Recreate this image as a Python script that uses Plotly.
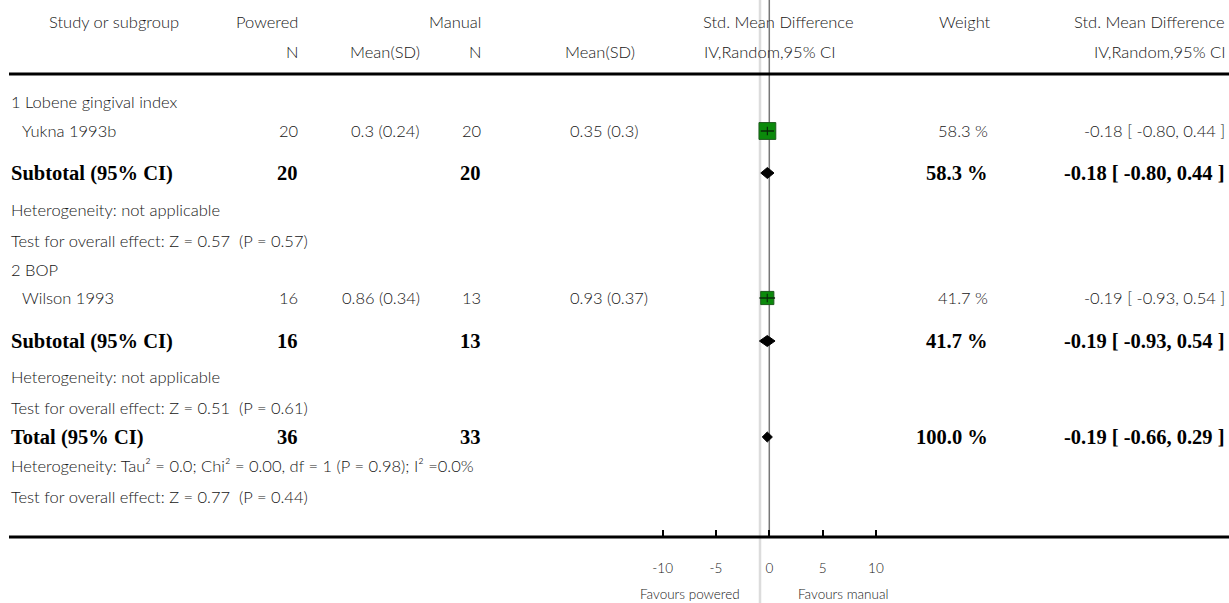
import plotly.graph_objects as go

# ---------------- data ----------------
group_titles = ["1 Lobene gingival index", "2 BOP"]
studies = ["Yukna 1993b", "Wilson 1993"]
powered_n = [20, 16]
powered_mean_sd = ["0.3 (0.24)", "0.86 (0.34)"]
manual_n = [20, 13]
manual_mean_sd = ["0.35 (0.3)", "0.93 (0.37)"]
study_smd = [-0.18, -0.19]
study_lo = [-0.80, -0.93]
study_hi = [0.44, 0.54]
study_weight = [58.3, 41.7]

sub_powered_n = [20, 16]
sub_manual_n = [20, 13]
sub_weight = [58.3, 41.7]
sub_smd = [-0.18, -0.19]
sub_lo = [-0.80, -0.93]
sub_hi = [0.44, 0.54]
sub_het = ["Heterogeneity: not applicable", "Heterogeneity: not applicable"]
sub_test = ["Test for overall effect: Z = 0.57  (P = 0.57)",
            "Test for overall effect: Z = 0.51  (P = 0.61)"]

total_powered_n = 36
total_manual_n = 33
total_weight = 100.0
total_smd = -0.19
total_lo = -0.66
total_hi = 0.29
total_het = "Heterogeneity: Tau² = 0.0; Chi² = 0.00, df = 1 (P = 0.98); I² =0.0%"
total_test = "Test for overall effect: Z = 0.77  (P = 0.44)"

tick_vals = [-10, -5, 0, 5, 10]
tick_text = ["-10", "-5", "0", "5", "10"]
favours_left = "Favours powered"
favours_right = "Favours manual"

# ---------------- layout helpers ----------------
W, H = 1229, 603
AXIS_Y = 537
X0_PX, PX_PER = 769.3, 10.66
x_range = [-X0_PX / PX_PER, (W - X0_PX) / PX_PER]

TEXT_COL = "#161616"
NORMAL = dict(family="Lato", size=16.5, color=TEXT_COL, weight=300)
BOLD = dict(family="Liberation Serif", size=20.5, color="#000000", weight="bold")
HDR = dict(family="Lato", size=16.5, color=TEXT_COL, weight=300)
SMALL = dict(family="Lato", size=13.5, color=TEXT_COL, weight=300)

annotations = []


def txt(px, py, text, anchor="left", font=NORMAL):
    annotations.append(dict(x=px / W, xref="paper", y=py, yref="y", text=text,
                            xanchor=anchor, yanchor="middle", showarrow=False,
                            font=font))


COL_NAME_GROUP = 9
COL_NAME_STUDY = 20
COL_PN = 300
COL_PMEAN = 422
COL_MN = 483
COL_MMEAN = 568
COL_WEIGHT = 990
COL_CI = 1227

# headers
txt(47, 22, "Study or subgroup", font=HDR)
txt(300, 22, "Powered", "right", HDR)
txt(483, 22, "Manual", "right", HDR)
txt(778, 22, "Std. Mean Difference", "center", HDR)
txt(965, 22, "Weight", "center", HDR)
txt(1227, 22, "Std. Mean Difference", "right", HDR)
txt(300, 52, "N", "right", HDR)
txt(422, 52, "Mean(SD)", "right", HDR)
txt(483, 52, "N", "right", HDR)
txt(600, 52, "Mean(SD)", "center", HDR)
txt(769, 52, "IV,Random,95% CI", "center", HDR)
txt(1227, 52, "IV,Random,95% CI", "right", HDR)

group_y = [102, 270]
study_y = [131, 298]
sub_y = [173, 341]
het_y = [210, 377]
test_y = [241, 408]
total_y = 437
total_het_y = 466
total_test_y = 497

fig = go.Figure()


def fmt_ci(e, l, h):
    return f"{e:.2f} [ {l:.2f}, {h:.2f} ]"


def diamond(e, l, h, yc, half=5.5):
    fig.add_trace(go.Scatter(x=[l, e, h, e, l], y=[yc, yc - half, yc, yc + half, yc],
                             mode="lines", fill="toself", fillcolor="#000000",
                             line=dict(color="#000000", width=1), hoverinfo="skip",
                             showlegend=False))


for i in range(len(studies)):
    txt(COL_NAME_GROUP, group_y[i], group_titles[i])
    sy = study_y[i]
    txt(COL_NAME_STUDY, sy, studies[i])
    txt(COL_PN, sy, str(powered_n[i]), "right")
    txt(COL_PMEAN, sy, powered_mean_sd[i], "right")
    txt(COL_MN, sy, str(manual_n[i]), "right")
    txt(COL_MMEAN, sy, manual_mean_sd[i], "left")
    txt(COL_WEIGHT, sy, f"{study_weight[i]:.1f} %", "right")
    txt(COL_CI, sy, fmt_ci(study_smd[i], study_lo[i], study_hi[i]), "right")
    fig.add_trace(go.Scatter(x=[study_smd[i]], y=[sy], mode="markers",
                             marker=dict(symbol="square", size=4 + study_weight[i] * 0.22,
                                         color="#0b8a0b",
                                         line=dict(color="#1d5a1d", width=1)),
                             hoverinfo="skip", showlegend=False))
    fig.add_trace(go.Scatter(x=[study_lo[i], study_hi[i]], y=[sy, sy], mode="lines",
                             line=dict(color="#0a2a0a", width=1.5), hoverinfo="skip",
                             showlegend=False))
    fig.add_trace(go.Scatter(x=[study_smd[i]], y=[sy], mode="markers",
                             marker=dict(symbol="line-ns", size=6,
                                         line=dict(color="#0a2a0a", width=1.2)),
                             hoverinfo="skip", showlegend=False))
    uy = sub_y[i]
    txt(COL_NAME_GROUP, uy, "Subtotal (95% CI)", font=BOLD)
    txt(COL_PN, uy, str(sub_powered_n[i]), "right", BOLD)
    txt(COL_MN, uy, str(sub_manual_n[i]), "right", BOLD)
    txt(COL_WEIGHT, uy, f"{sub_weight[i]:.1f} %", "right", BOLD)
    txt(COL_CI, uy, fmt_ci(sub_smd[i], sub_lo[i], sub_hi[i]), "right", BOLD)
    diamond(sub_smd[i], sub_lo[i], sub_hi[i], uy)
    txt(COL_NAME_GROUP, het_y[i], sub_het[i])
    txt(COL_NAME_GROUP, test_y[i], sub_test[i])

txt(COL_NAME_GROUP, total_y, "Total (95% CI)", font=BOLD)
txt(COL_PN, total_y, str(total_powered_n), "right", BOLD)
txt(COL_MN, total_y, str(total_manual_n), "right", BOLD)
txt(COL_WEIGHT, total_y, f"{total_weight:.1f} %", "right", BOLD)
txt(COL_CI, total_y, fmt_ci(total_smd, total_lo, total_hi), "right", BOLD)
diamond(total_smd, total_lo, total_hi, total_y, half=5)
txt(COL_NAME_GROUP, total_het_y, total_het)
txt(COL_NAME_GROUP, total_test_y, total_test)

annotations.append(dict(x=742 / W, xref="paper", y=-(594 - AXIS_Y) / AXIS_Y, yref="paper",
                        text=favours_left, xanchor="right", yanchor="middle",
                        showarrow=False, font=SMALL))
annotations.append(dict(x=796 / W, xref="paper", y=-(594 - AXIS_Y) / AXIS_Y, yref="paper",
                        text=favours_right, xanchor="left", yanchor="middle",
                        showarrow=False, font=SMALL))

shapes = [
    dict(type="line", xref="paper", yref="paper", x0=760 / W, x1=760 / W,
         y0=-(H - AXIS_Y) / AXIS_Y, y1=1, line=dict(color="#dcdcdc", width=2.5), layer="below"),
    dict(type="line", xref="x", yref="paper", x0=0, x1=0, y0=0, y1=1,
         line=dict(color="#777777", width=1.5), layer="below"),
    dict(type="line", xref="paper", yref="paper", x0=9 / W, x1=1,
         y0=1 - 74 / AXIS_Y, y1=1 - 74 / AXIS_Y, line=dict(color="#000000", width=3)),
    dict(type="line", xref="paper", yref="paper", x0=9 / W, x1=1, y0=0, y1=0,
         line=dict(color="#000000", width=3)),
]

fig.update_layout(
    width=W, height=H,
    margin=dict(l=0, r=0, t=0, b=H - AXIS_Y),
    paper_bgcolor="white", plot_bgcolor="white",
    xaxis=dict(range=x_range, showgrid=False, zeroline=False, showline=False,
               tickvals=tick_vals, ticktext=tick_text, ticks="inside", ticklen=7,
               tickwidth=2, tickcolor="#000000", ticklabelstandoff=21,
               tickfont=SMALL, fixedrange=True),
    yaxis=dict(range=[AXIS_Y, 0], showgrid=False, zeroline=False, showline=False,
               showticklabels=False, ticks="", fixedrange=True),
    annotations=annotations,
    shapes=shapes,
    showlegend=False,
)

fig.write_html("out.html", config={"displayModeBar": False},
               post_script="document.body.style.margin='0';document.body.style.overflow='hidden';")
